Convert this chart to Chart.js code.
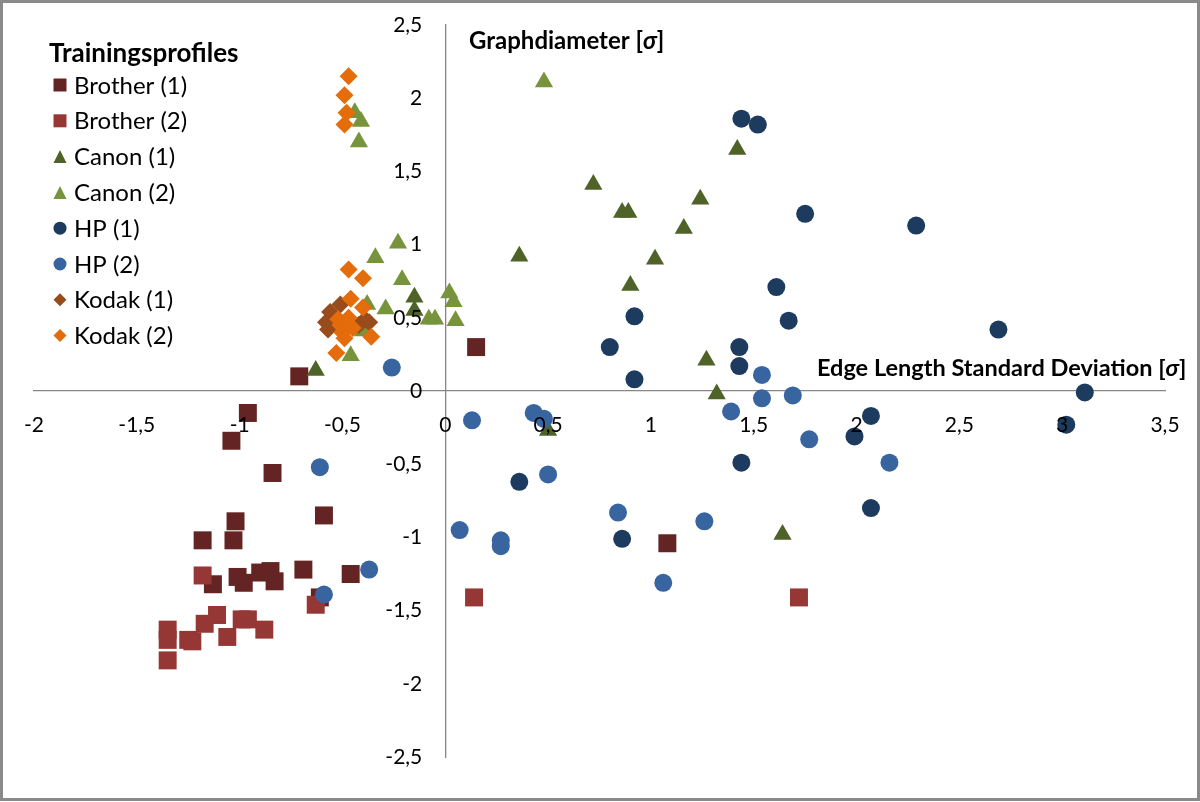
<!DOCTYPE html>
<html>
<head>
<meta charset="utf-8">
<script src="https://cdn.jsdelivr.net/npm/chart.js@4.4.0/dist/chart.umd.min.js"></script>
<style>
  html, body { margin: 0; padding: 0; background: #fff; }
  #wrap { width: 1200px; height: 802px; }
</style>
</head>
<body>
<div id="wrap"><canvas id="plot" width="1200" height="802"></canvas></div>
<script>
// values, [x, y] in sigma units
const brother1 = [
  [-0.71, 0.10], [0.15, 0.30], [-0.96, -0.15], [-1.04, -0.34], [-0.84, -0.56],
  [-1.02, -0.89], [-0.59, -0.85], [-1.18, -1.02], [-1.03, -1.02], [-0.69, -1.22],
  [-0.46, -1.25], [-1.13, -1.32], [-1.01, -1.27], [-0.98, -1.31], [-0.90, -1.24],
  [-0.85, -1.23], [-0.83, -1.30], [-0.61, -1.41], [1.08, -1.04]
];
const brother2 = [
  [-1.18, -1.26], [-1.11, -1.53], [-1.17, -1.59], [-1.35, -1.63], [-1.35, -1.70],
  [-1.35, -1.84], [-1.25, -1.70], [-1.23, -1.71], [-1.06, -1.68], [-0.99, -1.56],
  [-0.96, -1.56], [-0.88, -1.63], [-0.63, -1.46], [0.14, -1.41], [1.72, -1.41]
];
const canon1 = [
  [-0.63, 0.14], [-0.15, 0.64], [-0.15, 0.55], [1.42, 1.65], [0.72, 1.41],
  [1.24, 1.31], [0.86, 1.22], [0.89, 1.22], [1.16, 1.11], [0.36, 0.92],
  [1.02, 0.90], [0.90, 0.72], [1.27, 0.21], [1.32, -0.02], [1.64, -0.98],
  [0.50, -0.27]
];
const canon2 = [
  [0.48, 2.11], [-0.44, 1.90], [-0.41, 1.84], [-0.42, 1.70], [-0.23, 1.01],
  [-0.34, 0.91], [-0.21, 0.76], [-0.46, 0.24], [-0.29, 0.56], [-0.38, 0.59],
  [-0.08, 0.49], [-0.05, 0.49], [0.02, 0.67], [0.04, 0.61], [0.05, 0.48],
  [-0.40, 0.41]
];
const hp1 = [
  [1.44, 1.86], [1.52, 1.82], [1.75, 1.21], [2.29, 1.13], [1.61, 0.71],
  [1.67, 0.48], [0.92, 0.51], [2.69, 0.42], [0.80, 0.30], [1.43, 0.30],
  [1.43, 0.17], [0.92, 0.08], [3.11, -0.01], [2.07, -0.17], [1.99, -0.31],
  [3.02, -0.23], [1.44, -0.49], [0.36, -0.62], [2.07, -0.80], [0.86, -1.01]
];
const hp2 = [
  [-0.26, 0.16], [-0.61, -0.52], [-0.37, -1.22], [-0.59, -1.39], [0.13, -0.20],
  [0.43, -0.15], [0.48, -0.19], [1.39, -0.14], [1.54, 0.11], [1.54, -0.05],
  [1.69, -0.03], [1.77, -0.33], [2.16, -0.49], [0.50, -0.57], [0.84, -0.83],
  [1.26, -0.89], [0.07, -0.95], [0.27, -1.02], [0.27, -1.06], [1.06, -1.31]
];
const kodak1 = [
  [-0.56, 0.54], [-0.51, 0.59], [-0.57, 0.42], [-0.39, 0.49], [-0.37, 0.47],
  [-0.42, 0.45], [-0.58, 0.47]
];
const kodak2 = [
  [-0.47, 2.15], [-0.49, 2.02], [-0.48, 1.90], [-0.49, 1.82], [-0.47, 0.83],
  [-0.40, 0.77], [-0.46, 0.63], [-0.40, 0.57], [-0.36, 0.37], [-0.53, 0.26],
  [-0.52, 0.49], [-0.47, 0.50], [-0.50, 0.40], [-0.45, 0.43], [-0.49, 0.36],
  [-0.51, 0.45], [-0.48, 0.46]
];

const seriesNames = ['Brother (1)', 'Brother (2)', 'Canon (1)', 'Canon (2)', 'HP (1)', 'HP (2)', 'Kodak (1)', 'Kodak (2)'];
const seriesData = [brother1, brother2, canon1, canon2, hp1, hp2, kodak1, kodak2];
const legendTitle = 'Trainingsprofiles';
const xTitle = ['Edge Length Standard Deviation [', 'σ', ']'];
const yTitle = ['Graphdiameter [', 'σ', ']'];
const xRange = [-2, 3.5];
const yRange = [-2.5, 2.5];
const tickStep = 0.5;

const colors = ['#632423', '#953735', '#4f6228', '#77933c', '#1d3b5f', '#3864a0', '#984c1c', '#e46c0a'];
const shapes = ['rect', 'rect', 'triangle', 'triangle', 'circle', 'circle', 'rectRot', 'rectRot'];
const radii = { rect: 12.7, triangle: 10.5, circle: 9, rectRot: 9 };
const FONT = 'Lato, "Open Sans", sans-serif';

Chart.defaults.font.family = FONT;
Chart.defaults.color = '#000';

const datasets = seriesNames.map((name, i) => ({
  label: name,
  data: seriesData[i].map(p => ({ x: p[0], y: p[1] })),
  pointStyle: shapes[i],
  pointRadius: radii[shapes[i]],
  backgroundColor: colors[i],
  borderWidth: 0,
  order: seriesNames.length - i  // first series at the bottom, like Excel
}));

const commaTick = v => String(Number(v.toFixed(1))).replace('.', ',');

function marker(ctx, style, x, y, s) {
  ctx.beginPath();
  if (style === 'rect') {
    ctx.rect(x - s / 2, y - s / 2, s, s);
  } else if (style === 'triangle') {
    ctx.moveTo(x, y - s / 2);
    ctx.lineTo(x + s / 2, y + s / 2);
    ctx.lineTo(x - s / 2, y + s / 2);
    ctx.closePath();
  } else if (style === 'circle') {
    ctx.arc(x, y, s / 2, 0, Math.PI * 2);
  } else {
    ctx.moveTo(x, y - s / 2);
    ctx.lineTo(x + s / 2, y);
    ctx.lineTo(x, y + s / 2);
    ctx.lineTo(x - s / 2, y);
    ctx.closePath();
  }
  ctx.fill();
}

function boldTitle(ctx, parts, x, y, size) {
  parts.forEach((t, k) => {
    ctx.font = (k === 1 ? 'italic ' : '') + 'bold ' + size + 'px ' + FONT;
    ctx.fillText(t, x, y);
    x += ctx.measureText(t).width;
  });
}

const decor = {
  id: 'decor',
  beforeDraw(chart) {
    const ctx = chart.ctx;
    ctx.save();
    ctx.fillStyle = '#fff';
    ctx.fillRect(0, 0, chart.width, chart.height);
    ctx.strokeStyle = '#8a8a8a';
    ctx.lineWidth = 3;
    ctx.strokeRect(1.5, 1.5, chart.width - 3, chart.height - 4);
    ctx.restore();
  },
  afterDraw(chart) {
    const ctx = chart.ctx;
    const xs = chart.scales.x;
    const ys = chart.scales.y;
    ctx.save();
    ctx.fillStyle = '#000';

    // tick labels next to the crossing axes, on top of the markers
    const axisX = xs.getPixelForValue(0);
    const axisY = ys.getPixelForValue(0);
    ctx.font = '21px ' + FONT;
    ctx.textBaseline = 'middle';
    ctx.textAlign = 'right';
    ys.ticks.forEach(t => {
      ctx.fillText(commaTick(t.value), axisX - 23, ys.getPixelForValue(t.value));
    });
    ctx.textAlign = 'center';
    xs.ticks.forEach(t => {
      ctx.fillText(commaTick(t.value), xs.getPixelForValue(t.value), axisY + 34);
    });

    ctx.textBaseline = 'alphabetic';
    ctx.textAlign = 'left';
    boldTitle(ctx, yTitle, 469, 49, 24);
    boldTitle(ctx, xTitle, 817, 376, 23.5);

    // legend
    ctx.font = 'bold 26px ' + FONT;
    ctx.fillText(legendTitle, 49, 62);
    chart.data.datasets.forEach((ds, i) => {
      const y = 85 + i * 35.8;
      ctx.fillStyle = ds.backgroundColor;
      marker(ctx, ds.pointStyle, 60, y, 13);
      ctx.fillStyle = '#000';
      ctx.font = '24px ' + FONT;
      ctx.fillText(ds.label, 74, y + 8.5);
    });
    ctx.restore();
  }
};

new Chart(document.getElementById('plot'), {
  type: 'scatter',
  data: { datasets },
  plugins: [decor],
  options: {
    responsive: false,
    animation: false,
    events: [],
    layout: { padding: { left: 34, right: 35, top: 25, bottom: 45 } },
    plugins: { legend: { display: false }, tooltip: { enabled: false } },
    scales: {
      x: {
        type: 'linear',
        position: { y: 0 },
        min: xRange[0],
        max: xRange[1],
        grid: { display: false, drawTicks: false },
        border: { display: true, color: '#868686', width: 1.3 },
        ticks: { stepSize: tickStep, display: false, padding: 0 }
      },
      y: {
        type: 'linear',
        position: { x: 0 },
        min: yRange[0],
        max: yRange[1],
        grid: { display: false, drawTicks: false },
        border: { display: true, color: '#868686', width: 1.3 },
        ticks: { stepSize: tickStep, display: false, padding: 0 }
      }
    }
  }
});
</script>
</body>
</html>
